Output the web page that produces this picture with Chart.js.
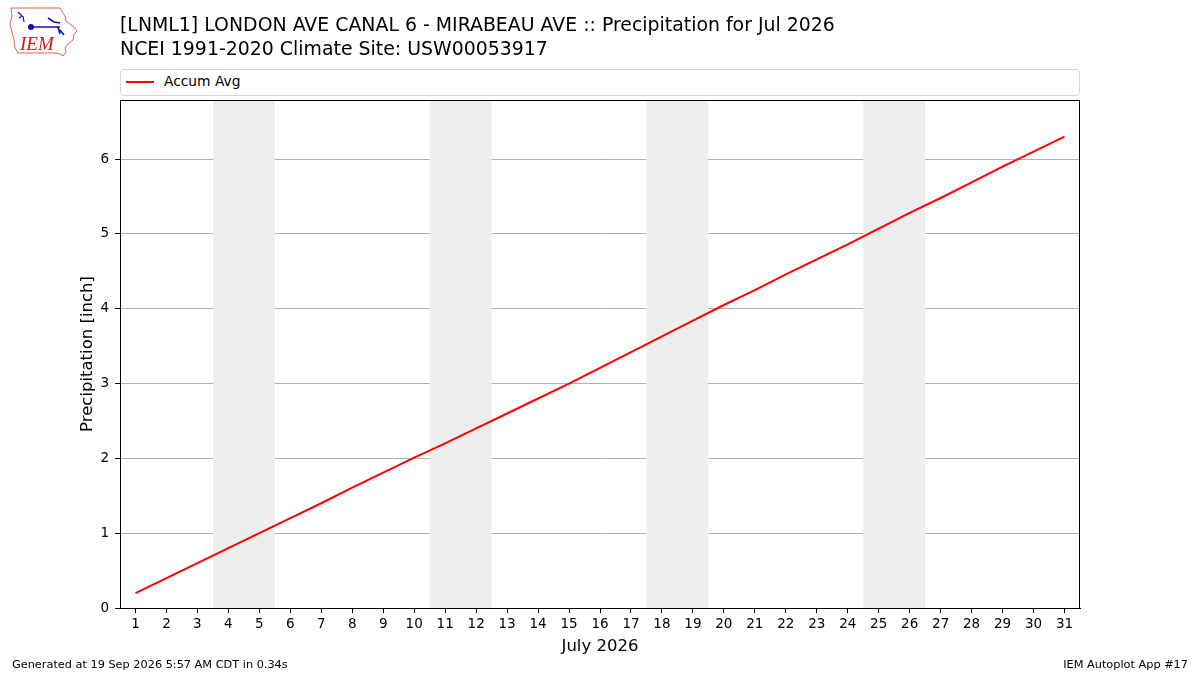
<!DOCTYPE html>
<html>
<head>
<meta charset="utf-8">
<script src="https://cdn.jsdelivr.net/npm/chart.js@4.4.1/dist/chart.umd.min.js"></script>
<style>
  html, body { margin:0; padding:0; background:#fff; }
  body { width:1200px; height:675px; position:relative; overflow:hidden; font-family:"DejaVu Sans", sans-serif; }
  #c { position:absolute; left:0; top:0; }
  .t { position:absolute; white-space:nowrap; color:#000; }
  #legend { position:absolute; left:120px; top:69px; width:958px; height:25px; border:1px solid #d6d6d6; border-radius:4px; background:#fff; }
  #legend .sw { position:absolute; left:5px; top:11px; width:28px; height:2px; background:#ff0000; }
  #legend .lb { position:absolute; left:43px; top:3px; font-size:13.8px; }
</style>
</head>
<body>
<canvas id="c" width="1200" height="675"></canvas>
<svg style="position:absolute;left:8px;top:4px" width="74" height="56" viewBox="0 0 74 56">
  <path d="M3,4 L52,4 L54,8 L57,12 L58,17 L62,20 L66,23 L69,27 L66,30 L65,36 L60,40 L57,44 L58,48 L55,52 L52,50 L48,49 L10,49 L7,44 L6,36 L4,28 L2,20 L4,12 Z" fill="none" stroke="#e06060" stroke-width="1"/>
  <path d="M10,8 L14,12 L11,14 M15,12 L16,18" stroke="#1010c0" stroke-width="1.2" fill="none"/>
  <circle cx="23" cy="23" r="3" fill="#1010c0"/>
  <path d="M23,23 L52,23 M40,14 L46,18 L52,19 M50,23 L52,30 M52,26 L56,31" stroke="#1010c0" stroke-width="1.6" fill="none"/>
  <text x="12" y="46" font-family="Liberation Serif, serif" font-style="italic" font-size="19" fill="#d01818">IEM</text>
</svg>
<div class="t" style="left:120px;top:13px;font-size:18.9px;">[LNML1] LONDON AVE CANAL 6 - MIRABEAU AVE :: Precipitation for Jul 2026</div>
<div class="t" style="left:120px;top:37px;font-size:18.9px;">NCEI 1991-2020 Climate Site: USW00053917</div>
<div id="legend"><div class="sw"></div><div class="lb">Accum Avg</div></div>
<div class="t" style="left:12px;top:658px;font-size:11.3px;">Generated at 19 Sep 2026 5:57 AM CDT in 0.34s</div>
<div class="t" style="right:12px;top:658px;font-size:11.3px;">IEM Autoplot App #17</div>
<script>
// ---- data ----
const days = [1,2,3,4,5,6,7,8,9,10,11,12,13,14,15,16,17,18,19,20,21,22,23,24,25,26,27,28,29,30,31];
const accumAvg = [0.20,0.40,0.60,0.80,1.00,1.20,1.40,1.61,1.81,2.01,2.20,2.40,2.60,2.80,3.00,3.21,3.42,3.63,3.84,4.05,4.25,4.46,4.66,4.86,5.07,5.28,5.48,5.69,5.90,6.10,6.30];
const weekendSpans = [[3.5,5.5],[10.5,12.5],[17.5,19.5],[24.5,26.5]];
const yTicks = [0,1,2,3,4,5,6];
const xLabel = "July 2026";
const yLabel = "Precipitation [inch]";

const shading = {
  id:'shading',
  beforeDatasetsDraw(chart){
    const {ctx, chartArea:a, scales:{x}} = chart;
    ctx.save();
    ctx.fillStyle = '#eeeeee';
    weekendSpans.forEach(([s,e])=>{
      const x0 = x.getPixelForValue(s), x1 = x.getPixelForValue(e);
      ctx.fillRect(x0, a.top, x1-x0, a.bottom-a.top);
    });
    ctx.restore();
  }
};
const frame = {
  id:'frame',
  afterDraw(chart){
    const {ctx, chartArea:a} = chart;
    ctx.save();
    ctx.strokeStyle = '#000'; ctx.lineWidth = 1;
    ctx.strokeRect(Math.round(a.left)+0.5, Math.round(a.top)+0.5, Math.round(a.right-a.left)-1, Math.round(a.bottom-a.top));
    ctx.restore();
  }
};

Chart.defaults.font.family = '"DejaVu Sans", sans-serif';
Chart.defaults.color = '#000';

new Chart(document.getElementById('c'), {
  type:'line',
  data:{
    datasets:[{
      label:'Accum Avg',
      data: days.map((d,i)=>({x:d, y:accumAvg[i]})),
      borderColor:'#ff0000',
      borderWidth:2,
      pointRadius:0,
      tension:0,
      fill:false
    }]
  },
  options:{
    responsive:false,
    animation:false,
    events:[],
    layout:{padding:{left:78,right:120,top:100,bottom:18}},
    plugins:{legend:{display:false}, tooltip:{enabled:false}, title:{display:false}},
    scales:{
      x:{
        type:'linear', min:0.5, max:31.5,
        afterBuildTicks(s){ s.ticks = days.map(v=>({value:v})); },
        ticks:{font:{size:13.5}, padding:3, maxRotation:0, autoSkip:false, callback:v=>String(v)},
        grid:{display:true, drawOnChartArea:false, tickLength:5, tickColor:'#000', color:'#000'},
        border:{display:true, color:'#000'},
        title:{display:true, text:xLabel, font:{size:16.5}, padding:{top:2,bottom:0}},
        afterFit(s){ s.height = 49; }
      },
      y:{
        type:'linear', min:0, max:6.79,
        afterBuildTicks(s){ s.ticks = yTicks.map(v=>({value:v})); },
        ticks:{font:{size:13.5}, padding:6, callback:v=>String(v)},
        grid:{color:'#b0b0b0', lineWidth:1, tickLength:5, tickColor:'#000'},
        border:{display:true, color:'#000'},
        title:{display:true, text:yLabel, font:{size:16.5}, padding:{top:0,bottom:0}},
        afterFit(s){ s.width = 42; }
      }
    }
  },
  plugins:[shading, frame]
});
</script>
</body>
</html>
